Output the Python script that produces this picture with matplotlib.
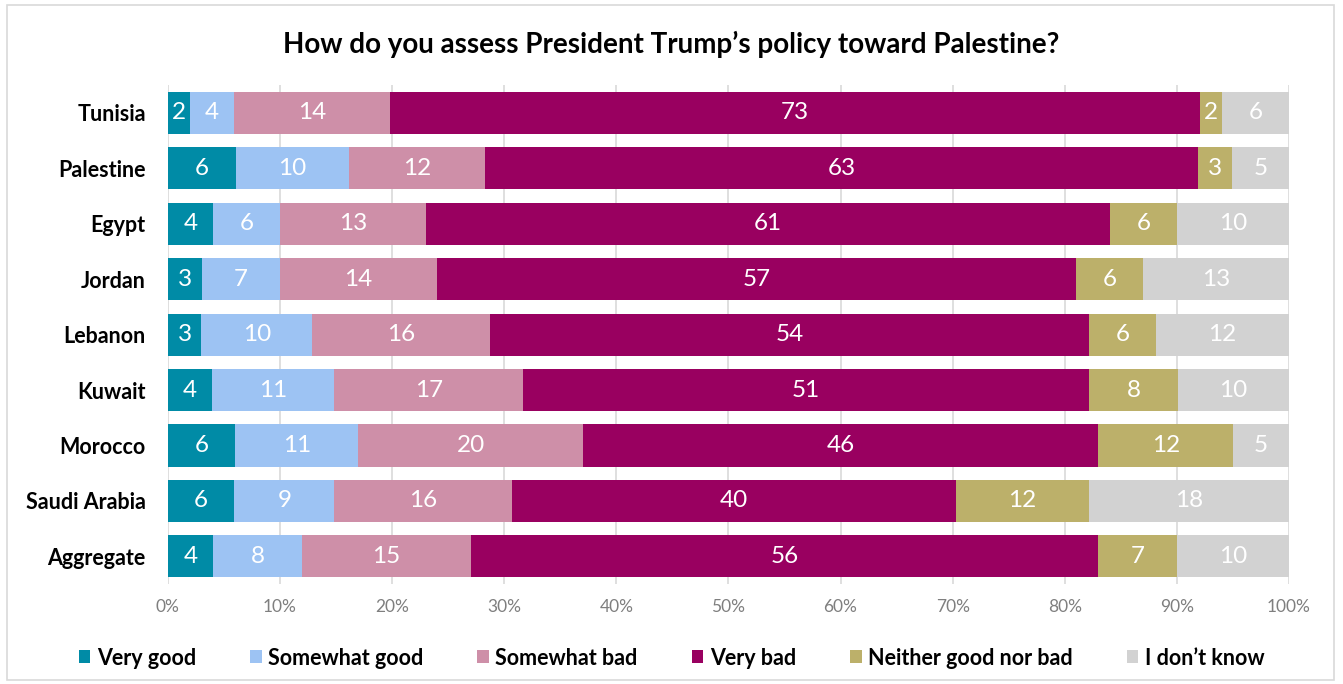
import matplotlib.pyplot as plt
import numpy as np
from matplotlib.patches import Rectangle

plt.rcParams['font.family'] = ['Lato', 'DejaVu Sans']

countries = ['Tunisia', 'Palestine', 'Egypt', 'Jordan', 'Lebanon', 'Kuwait',
             'Morocco', 'Saudi Arabia', 'Aggregate']
categories = ['Very good', 'Somewhat good', 'Somewhat bad', 'Very bad',
              'Neither good nor bad', 'I don\u2019t know']
very_good = [2, 6, 4, 3, 3, 4, 6, 6, 4]
somewhat_good = [4, 10, 6, 7, 10, 11, 11, 9, 8]
somewhat_bad = [14, 12, 13, 14, 16, 17, 20, 16, 15]
very_bad = [73, 63, 61, 57, 54, 51, 46, 40, 56]
neither = [2, 3, 6, 6, 6, 8, 12, 12, 7]
dont_know = [6, 5, 10, 13, 12, 10, 5, 18, 10]
colors = ['#008BA6', '#9DC3F3', '#CE8FA8', '#990060', '#BCB06A', '#D2D2D2']

series = np.array([very_good, somewhat_good, somewhat_bad, very_bad, neither, dont_know], dtype=float)
shares = series / series.sum(axis=0) * 100

fig = plt.figure(figsize=(13.43, 6.84), dpi=100)
ax = fig.add_axes([0.125, 0.146, 0.8348, 0.7297])
fig.patches.append(Rectangle((0.005, 0.006), 0.988, 0.987, transform=fig.transFigure,
                             fill=False, edgecolor='#D9D9D9', linewidth=1.2))

y = np.arange(len(countries))
left = np.zeros(len(countries))
for i, cat in enumerate(categories):
    ax.barh(y, shares[i], left=left, height=0.76, color=colors[i], label=cat, zorder=2)
    for j in range(len(countries)):
        ax.text(left[j] + shares[i][j] / 2, y[j], f'{int(series[i][j])}', ha='center',
                va='center', color='white', fontsize=17.5, zorder=3)
    left += shares[i]

ax.set_ylim(len(countries) - 0.5, -0.5)
ax.set_xlim(0, 100)
ax.set_yticks(y)
ax.set_yticklabels(countries, fontsize=15.5, fontweight='bold')
ax.set_xticks(np.arange(0, 101, 10))
ax.set_xticklabels([f'{v}%' for v in range(0, 101, 10)], fontsize=12.5, color='#7F7F7F')
ax.tick_params(length=0)
ax.tick_params(axis='x', pad=11)
ax.tick_params(axis='y', pad=16)
ax.grid(axis='x', color='#D9D9D9', linewidth=1.2, zorder=0)
for s in ax.spines.values():
    s.set_visible(False)

fig.text(0.5, 0.935, 'How do you assess President Trump\u2019s policy toward Palestine?',
         ha='center', va='center', fontsize=20, fontweight='bold')

fig.legend(loc='center', bbox_to_anchor=(0.5, 0.038), ncol=6, frameon=False,
           prop={'size': 15.5, 'weight': 'bold'}, handlelength=0.55, handleheight=0.55,
           handletextpad=0.3, columnspacing=2.5)

fig.savefig('out.png', dpi=100)
